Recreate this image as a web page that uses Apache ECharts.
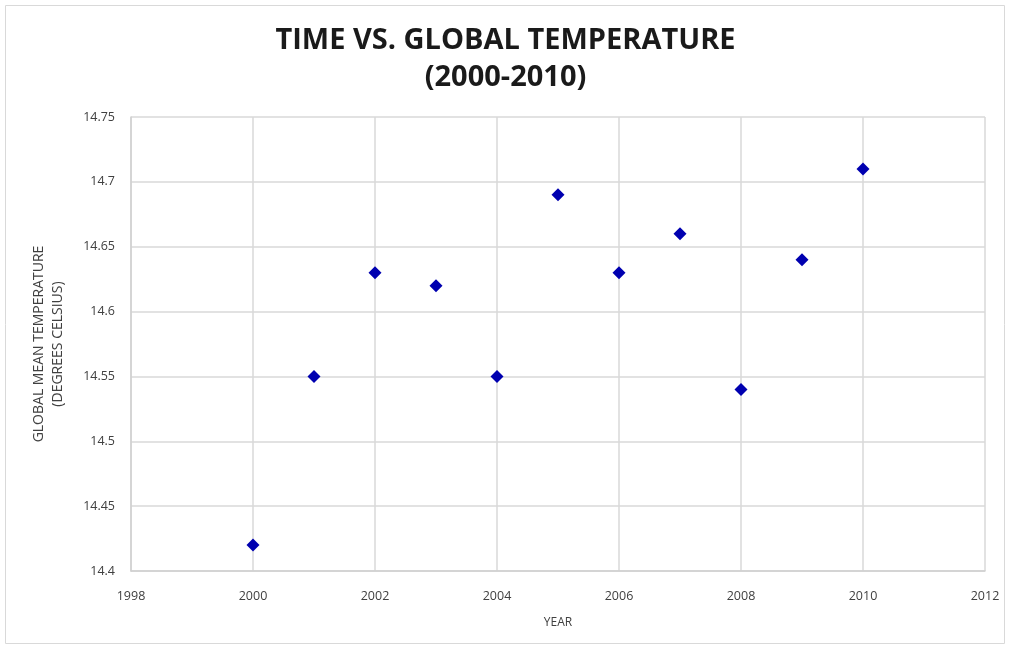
<!DOCTYPE html>
<html><head><meta charset="utf-8">
<script src="https://cdn.jsdelivr.net/npm/echarts@6/dist/echarts.min.js"></script>
<style>html,body{margin:0;padding:0;background:#fff}#c{width:1011px;height:649px}</style>
</head><body><div id="c"></div>
<script>
const years = [2000, 2001, 2002, 2003, 2004, 2005, 2006, 2007, 2008, 2009, 2010];
const temps = [14.42, 14.55, 14.63, 14.62, 14.55, 14.69, 14.63, 14.66, 14.54, 14.64, 14.71];
const titleText = 'TIME VS. GLOBAL TEMPERATURE\n(2000-2010)';
const xName = 'YEAR';
const yName = 'GLOBAL MEAN TEMPERATURE\n(DEGREES CELSIUS)';

const chart = echarts.init(document.getElementById('c'));
const labelStyle = {color: '#404040', fontFamily: 'Open Sans', fontSize: 12.5};
chart.setOption({
  animation: false,
  graphic: [{type: 'rect', shape: {x: 5.5, y: 5.5, width: 999, height: 638}, style: {fill: 'none', stroke: '#d9d9d9', lineWidth: 1}, z: -1}],
  title: {text: titleText, left: 'center', top: 17,
    textStyle: {fontFamily: 'Open Sans', fontWeight: 'bold', fontSize: 29, color: '#1a1a1a', lineHeight: 37}},
  grid: {left: 131, right: 26, top: 117, bottom: 78},
  xAxis: {type: 'value', min: 1998, max: 2012, interval: 2,
    name: xName, nameLocation: 'middle', nameGap: 46,
    nameTextStyle: {color: '#404040', fontFamily: 'Open Sans', fontSize: 12},
    axisLine: {lineStyle: {color: '#d0d0d0', width: 1.5}}, axisTick: {show: false},
    axisLabel: Object.assign({margin: 19, formatter: v => String(v)}, labelStyle),
    splitLine: {show: true, lineStyle: {color: '#d9d9d9', width: 1.5}}},
  yAxis: {type: 'value', min: 14.4, max: 14.75, interval: 0.05,
    name: yName, nameLocation: 'middle', nameGap: 63, nameRotate: 90,
    nameTextStyle: {color: '#404040', fontFamily: 'Open Sans', fontSize: 14, lineHeight: 19},
    axisLine: {show: true, lineStyle: {color: '#d0d0d0', width: 1.5}}, axisTick: {show: false},
    axisLabel: Object.assign({margin: 16, formatter: v => String(+v.toFixed(2))}, labelStyle),
    splitLine: {show: true, lineStyle: {color: '#d9d9d9', width: 1.5}}},
  series: [{type: 'scatter', symbol: 'diamond', symbolSize: 13,
    itemStyle: {color: '#0000b0', opacity: 1},
    data: years.map((y, i) => [y, temps[i]])}]
});
</script></body></html>
